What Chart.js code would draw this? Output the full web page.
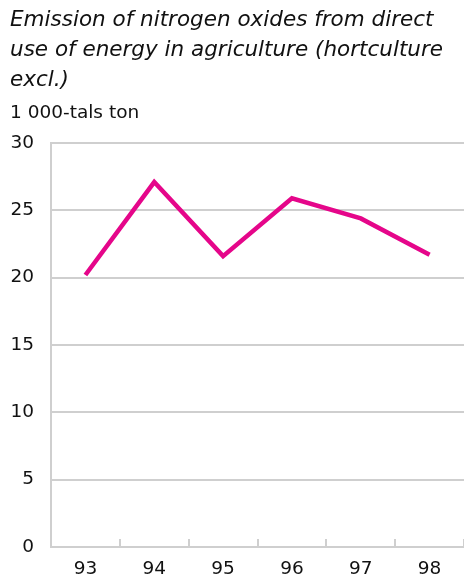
<!DOCTYPE html>
<html>
<head>
<meta charset="utf-8">
<script src="https://cdn.jsdelivr.net/npm/chart.js@4"></script>
<style>
  html, body { margin: 0; padding: 0; background: #fff; }
  #wrap { width: 464px; height: 578px; }
</style>
</head>
<body>
<div id="wrap"><canvas id="graf"></canvas></div>
<script>
const years = ["93", "94", "95", "96", "97", "98"];
const noxValues = [20.2, 27.1, 21.6, 25.9, 24.4, 21.7];
const yTicks = [0, 5, 10, 15, 20, 25, 30];
const titleLines = [
    "Emission of nitrogen oxides from direct",
    "use of energy in agriculture (hortculture",
    "excl.)"
];
const unitLabel = "1 000-tals ton";

document.addEventListener("DOMContentLoaded", () => {

    const ctx = document.getElementById("graf");
    const grey = "#cfcfcf";
    const font = "'DejaVu Sans', sans-serif";

    new Chart(ctx, {
        type: "line",
        data: {
            labels: years,
            datasets: [{
                data: noxValues,
                borderColor: "#e5068a",
                borderWidth: 4.5,
                borderJoinStyle: "miter",
                tension: 0,
                pointRadius: 0,
                fill: false
            }]
        },
        options: {
            responsive: true,
            maintainAspectRatio: false,
            animation: false,
            layout: { padding: { left: 10, right: 0, top: 0, bottom: 0 } },
            plugins: {
                legend: { display: false },
                tooltip: { enabled: false },
                title: {
                    display: true,
                    text: titleLines,
                    align: "start",
                    color: "#111",
                    font: { family: font, size: 21.5, style: "italic", weight: "normal", lineHeight: 1.377 },
                    padding: { top: 6, bottom: 0 }
                },
                subtitle: {
                    display: true,
                    text: unitLabel,
                    align: "start",
                    color: "#111",
                    font: { family: font, size: 18.5, weight: "normal", lineHeight: 1.2 },
                    padding: { top: 7, bottom: 19 }
                }
            },
            scales: {
                x: {
                    offset: true,
                    afterFit: (axis) => { axis.height = 31; },
                    grid: {
                        offset: true,
                        drawOnChartArea: false,
                        tickLength: -8,
                        color: grey,
                        lineWidth: 2
                    },
                    border: { color: grey, width: 2 },
                    ticks: {
                        color: "#111",
                        padding: 21,
                        maxRotation: 0,
                        font: { family: font, size: 18.5, lineHeight: 0.973 }
                    }
                },
                y: {
                    min: 0,
                    max: 30,
                    afterBuildTicks: (axis) => {
                        axis.ticks = yTicks.map(v => ({ value: v }));
                    },
                    afterFit: (axis) => { axis.width = 41; },
                    grid: { color: grey, lineWidth: 2, drawTicks: false },
                    border: { color: grey, width: 2 },
                    ticks: {
                        color: "#111",
                        padding: 17,
                        font: { family: font, size: 18.5 }
                    }
                }
            }
        }
    });

});
</script>
</body>
</html>
